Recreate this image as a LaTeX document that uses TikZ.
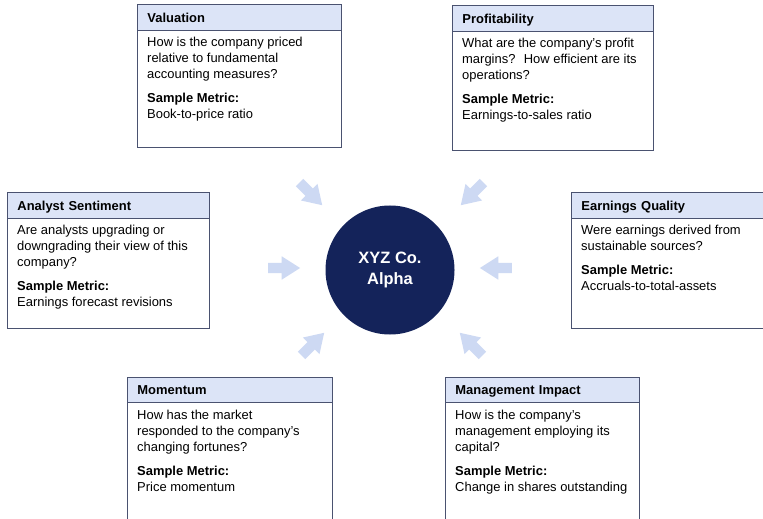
\documentclass[tikz,border=0pt]{standalone}
\usepackage{fontspec}
\setmainfont{Liberation Sans}
\usepackage{tikz}
\usetikzlibrary{shapes.arrows}
\definecolor{edgegray}{HTML}{4A5270}
\definecolor{headblue}{HTML}{DCE4F7}
\definecolor{navy}{HTML}{14235A}
\definecolor{arrowblue}{HTML}{CDD9F3}

\begin{document}
\begin{tikzpicture}[x=1bp, y=-1bp,
  panel/.style={draw=edgegray, line width=0.9bp, fill=white, anchor=north west, inner sep=0pt},
  panelhead/.style={draw=edgegray, line width=0.9bp, fill=headblue, anchor=north west, inner ysep=0pt, inner xsep=10bp, align=left, text height=10bp, text depth=0bp, font=\fontsize{13}{16}\selectfont\bfseries},
  paneltext/.style={anchor=north west, inner sep=0pt, align=left, font=\fontsize{13}{16}\selectfont},
  core/.style={circle, fill=navy, minimum size=129bp, inner sep=0pt, text=white, align=center, font=\fontsize{16.5}{22}\selectfont\bfseries},
  flowarrow/.style={single arrow, fill=arrowblue, draw=none, minimum height=32bp, inner xsep=0pt, inner ysep=5bp, single arrow head extend=6.5bp, single arrow tip angle=65},]
  \useasboundingbox (0,0) rectangle (763,519);
  \clip (0,0) rectangle (763,519);
  \fill[white] (0,0) rectangle (763,519);

  \node[core] (alpha) at (390,270) {XYZ Co.\\Alpha};

  \node[flowarrow, rotate=-45] (arrVal) at (308,191) {};
  \node[flowarrow, rotate=-135] (arrProf) at (475,191) {};
  \node[flowarrow] (arrAnal) at (280,268) {};
  \node[flowarrow, rotate=180] (arrEarn) at (500,268) {};
  \node[flowarrow, rotate=45] (arrMom) at (310,347) {};
  \node[flowarrow, rotate=135] (arrMgmt) at (474,347) {};

  % valuation
  \node[panel, minimum width=204bp, minimum height=143bp] (val) at (137,4) {};
  \node[panelhead, text width=184bp, minimum height=26bp] (valH) at (val.north west) {Valuation};
  \node[paneltext] (valT) at (147,37) {How is the company priced\\relative to fundamental\\accounting measures?\\[8bp]\textbf{Sample Metric:}\\Book-to-price ratio};

  % profitability
  \node[panel, minimum width=201bp, minimum height=145bp] (prof) at (452,5) {};
  \node[panelhead, text width=181bp, minimum height=26bp] (profH) at (prof.north west) {Profitability};
  \node[paneltext] (profT) at (462,38) {What are the company's profit\\margins?~ How efficient are its\\operations?\\[8bp]\textbf{Sample Metric:}\\Earnings-to-sales ratio};

  % analyst sentiment
  \node[panel, minimum width=202bp, minimum height=136bp] (anal) at (7,192) {};
  \node[panelhead, text width=182bp, minimum height=26bp] (analH) at (anal.north west) {Analyst Sentiment};
  \node[paneltext] (analT) at (17,225) {Are analysts upgrading or\\downgrading their view of this\\company?\\[8bp]\textbf{Sample Metric:}\\Earnings forecast revisions};

  % earnings quality
  \node[panel, minimum width=210bp, minimum height=136bp] (earn) at (571,192) {};
  \node[panelhead, text width=190bp, minimum height=26bp] (earnH) at (earn.north west) {Earnings Quality};
  \node[paneltext] (earnT) at (581,225) {Were earnings derived from\\sustainable sources?\\[8bp]\textbf{Sample Metric:}\\Accruals-to-total-assets};

  % momentum
  \node[panel, minimum width=205bp, minimum height=160bp] (mom) at (127,377) {};
  \node[panelhead, text width=185bp, minimum height=25bp] (momH) at (mom.north west) {Momentum};
  \node[paneltext] (momT) at (137,410) {How has the market\\responded to the company's\\changing fortunes?\\[8bp]\textbf{Sample Metric:}\\Price momentum};

  % management impact
  \node[panel, minimum width=194bp, minimum height=160bp] (mgmt) at (445,377) {};
  \node[panelhead, text width=174bp, minimum height=25bp] (mgmtH) at (mgmt.north west) {Management Impact};
  \node[paneltext] (mgmtT) at (455,410) {How is the company's\\management employing its\\capital?\\[8bp]\textbf{Sample Metric:}\\Change in shares outstanding};
\end{tikzpicture}
\end{document}
